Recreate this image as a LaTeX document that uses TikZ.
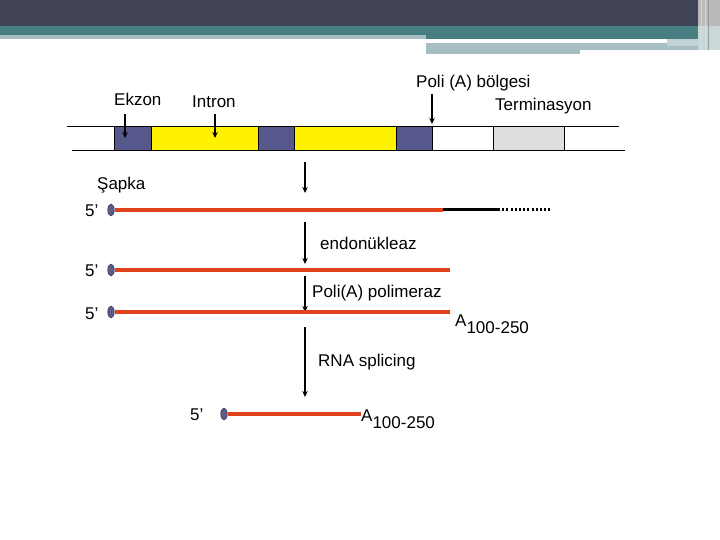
\documentclass[tikz,border=0pt]{standalone}
\usepackage{fontspec}
\setmainfont{Liberation Sans}
\usetikzlibrary{arrows.meta,shapes.geometric}
\definecolor{bandDark}{HTML}{404256}
\definecolor{bandTeal}{HTML}{467E82}
\definecolor{bandLight}{HTML}{A6BEC1}
\definecolor{exonBlue}{HTML}{56578A}
\definecolor{capBlue}{HTML}{5A5C86}
\definecolor{rnaRed}{HTML}{E0431B}
\definecolor{termGray}{HTML}{DEDEDE}
\tikzset{
    down/.style={line width=1.6pt, -{Stealth[length=6pt,width=5.5pt]}},
    rna/.style={rnaRed, line width=3.2pt},
    capdot/.style={ellipse, fill=capBlue, draw=capBlue!70!black, line width=0.6pt,
        minimum width=6.5pt, minimum height=12pt, inner sep=0pt},
    lbl/.style={anchor=base west, inner sep=0pt},
}
\begin{document}
\begin{tikzpicture}[x=1pt, y=-1pt, font=\fontsize{17}{20}\selectfont]
    \useasboundingbox (0,0) rectangle (720,540);

    % Header bands
    \fill[bandDark] (0,0) rectangle (720,26.5);
    \fill[bandTeal] (0,26.5) rectangle (720,35);
    \fill[bandLight] (0,35) rectangle (426,39);
    \fill[bandTeal] (426,35) rectangle (698,39.5);
    \fill[bandLight] (426,43) rectangle (667,46);
    \fill[bandLight] (426,46) rectangle (580,54);
    \fill[bandLight] (580,46) rectangle (707,50);
    \fill[bandLight!70!white] (667,39.5) rectangle (698,46);
    \fill[gray!55] (698,0) rectangle (720,50);
    \fill[bandLight!60!white] (698,26.5) rectangle (720,50);
    \draw[gray!30, line width=1pt] (701,0) -- (701,48);
    \draw[gray!30, line width=1pt] (705,0) -- (705,48);
    \draw[gray!80, line width=1pt] (708,0) -- (708,50);

    % Gene segments
    \filldraw[fill=exonBlue, draw=black] (114,126) rectangle (151,150);
    \filldraw[fill=yellow, draw=black] (151,126) rectangle (258,150);
    \filldraw[fill=exonBlue, draw=black] (258,126) rectangle (294,150);
    \filldraw[fill=yellow, draw=black] (294,126) rectangle (396,150);
    \filldraw[fill=exonBlue, draw=black] (396,126) rectangle (432,150);
    \filldraw[fill=termGray, draw=black] (493,126) rectangle (564,150);
    \draw (67,126) -- (619,126);
    \draw (72,150) -- (625,150);

    % Gene labels
    \node[lbl] (ekzon) at (114,106) {Ekzon};
    \node[lbl] (intron) at (192,108) {Intron};
    \node[lbl] (polia) at (416,88) {Poli (A) bölgesi};
    \node[lbl] (term) at (495,111) {Terminasyon};
    \coordinate (ekzonTop) at (125,114);
    \coordinate (ekzonTip) at (125,138);
    \coordinate (intronTop) at (215,114);
    \coordinate (intronTip) at (215,138);
    \coordinate (poliaTop) at (432,94);
    \coordinate (poliaTip) at (432,124);
    \draw[down] (ekzonTop) -- (ekzonTip);
    \draw[down] (intronTop) -- (intronTip);
    \draw[down] (poliaTop) -- (poliaTip);

    % Primary transcript
    \node[lbl] (sapka) at (97,190) {Şapka};
    \node[lbl] (five1) at (85,216) {5’};
    \node[capdot] (cap1) at (111,210) {};
    \coordinate (cut1) at (443,210);
    \coordinate (end1) at (498,210);
    \coordinate (dot1) at (550,210);
    \draw[rna] (cap1.east) -- (cut1);
    \draw[line width=3pt] (cut1) -- (end1);
    \draw[line width=3pt, dash pattern=on 2pt off 2.2pt] (end1) -- (dot1);

    % Step arrows
    \coordinate (s1) at (305,162);
    \coordinate (s1e) at (305,193);
    \coordinate (s2) at (305,222);
    \coordinate (s2e) at (305,264);
    \coordinate (s3) at (305,276);
    \coordinate (s3e) at (305,312);
    \coordinate (s4) at (305,327);
    \coordinate (s4e) at (305,397);
    \draw[down] (s1) -- (s1e);
    \draw[down] (s2) -- (s2e);
    \draw[down] (s3) -- (s3e);
    \draw[down] (s4) -- (s4e);
    \node[lbl] (endo) at (320,249) {endonükleaz};
    \node[lbl] (polym) at (312,297) {Poli(A) polimeraz};
    \node[lbl] (splice) at (318,366) {RNA splicing};

    % Cleaved transcript
    \node[lbl] (five2) at (85,276) {5’};
    \node[capdot] (cap2) at (111,270) {};
    \coordinate (end2) at (450,270);
    \draw[rna] (cap2.east) -- (end2);

    % Polyadenylated transcript
    \node[lbl] (five3) at (85,319) {5’};
    \node[capdot] (cap3) at (111,312) {};
    \coordinate (end3) at (450,312);
    \draw[rna] (cap3.east) -- (end3);
    \node[lbl] (tail3) at (455,326) {A\raisebox{-7pt}{100-250}};

    % Mature mRNA
    \node[lbl] (five4) at (190,420) {5’};
    \node[capdot] (cap4) at (224,414) {};
    \coordinate (end4) at (361,414);
    \draw[rna] (cap4.east) -- (end4);
    \node[lbl] (tail4) at (361,421) {A\raisebox{-7pt}{100-250}};
\end{tikzpicture}
\end{document}
